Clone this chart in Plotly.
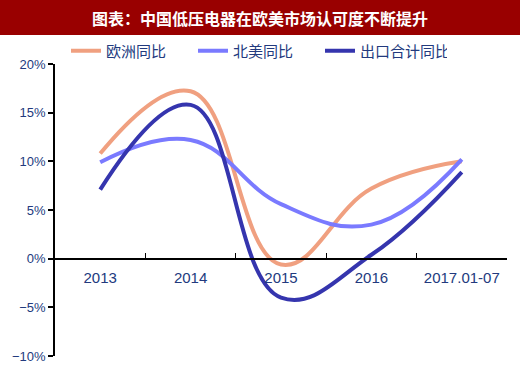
import plotly.graph_objects as go

categories = ["2013", "2014", "2015", "2016", "2017.01-07"]
europe = [10.8, 17.2, -0.6, 7.2, 10.0]
north_america = [9.9, 12.2, 5.6, 3.5, 10.2]
export_total = [7.1, 15.8, -4.0, 0.4, 8.9]

title_text = "图表：中国低压电器在欧美市场认可度不断提升"
y_ticks = [-10, -5, 0, 5, 10, 15, 20]
y_tick_labels = ["\u221210%", "\u22125%", "0%", "5%", "10%", "15%", "20%"]

navy_text = "#223A7E"

fig = go.Figure()
series = [
    ("欧洲同比", europe, "#F0A080"),
    ("北美同比", north_america, "#7A7AFF"),
    ("出口合计同比", export_total, "#3535AE"),
]
for name, vals, color in series:
    fig.add_trace(go.Scatter(
        x=categories, y=vals, name=name, mode="lines",
        line=dict(color=color, width=4, shape="spline", smoothing=1.2),
    ))

W, H = 520, 374
ml, mr, mt, mb = 55, 13, 64, 18
pw, ph = W - ml - mr, H - mt - mb

fig.add_shape(type="rect", xref="paper", yref="paper",
              x0=-ml / pw, x1=1 + mr / pw,
              y0=1 + (mt - 35) / ph, y1=1 + mt / ph,
              fillcolor="#990000", line=dict(width=0), layer="below")
fig.add_annotation(text=title_text, xref="paper", yref="paper",
                   x=(260 - ml) / pw, y=1 + (mt - 18) / ph,
                   xanchor="center", yanchor="middle", showarrow=False,
                   font=dict(family="Noto Sans CJK SC", size=16, color="white", weight="bold"))

fig.update_layout(
    width=W, height=H,
    margin=dict(l=ml, r=mr, t=mt, b=mb, autoexpand=False),
    paper_bgcolor="white", plot_bgcolor="white",
    font=dict(family="Liberation Sans, Arial", color=navy_text, size=13),
    legend=dict(orientation="h", x=(66 - ml) / pw, y=1 + (mt - 51) / ph,
                xanchor="left", yanchor="middle",
                font=dict(family="Noto Sans CJK SC", size=15, color=navy_text),
                entrywidth=82, bgcolor="rgba(0,0,0,0)", tracegroupgap=0),
    xaxis=dict(type="category", anchor="free", position=1 / 3,
               showline=True, linecolor="black", linewidth=1.5,
               ticks="inside", ticklen=5, tickcolor="black", tickwidth=1,
               tickson="boundaries", showgrid=False, zeroline=False,
               ticklabelstandoff=6, automargin=False,
               tickfont=dict(family="Liberation Sans, Arial", size=15, color=navy_text),
               range=[-0.5, 4.5]),
    yaxis=dict(range=[-10, 20], tickvals=y_ticks, ticktext=y_tick_labels,
               showline=True, linecolor="black", linewidth=1.5,
               ticks="outside", ticklen=5, tickcolor="black", tickwidth=1.5,
               showgrid=False, zeroline=False, automargin=False,
               tickfont=dict(family="Liberation Sans, Arial", size=13, color=navy_text)),
)

fig.write_html("out.html", post_script="document.body.style.margin='0';",
               config={"displayModeBar": False})
